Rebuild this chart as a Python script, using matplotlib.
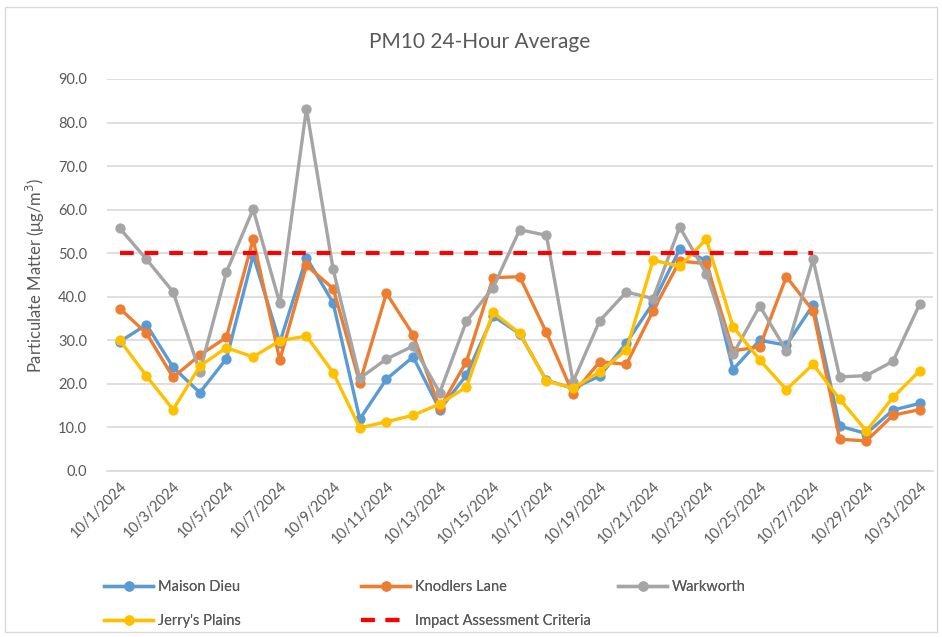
import numpy as np
import matplotlib
matplotlib.use("Agg")
import matplotlib.pyplot as plt
from matplotlib.patches import Rectangle

dates = ["10/%d/2024" % d for d in range(1, 32)]

maison_dieu = [29.7, 33.6, 23.8, 18.0, 25.8, 49.5, 29.5, 49.0, 38.6, 11.9,
               21.1, 26.2, 14.1, 22.0, 35.6, 31.5, 20.8, 19.0, 21.8, 29.4,
               38.6, 50.9, 48.4, 23.3, 30.0, 28.9, 38.1, 10.3, 8.6, 14.0, 15.5]
knodlers_lane = [37.3, 31.6, 21.5, 26.6, 30.7, 53.2, 25.5, 47.2, 41.9, 20.3,
                 40.8, 31.3, 14.4, 25.1, 44.4, 44.6, 31.8, 17.7, 25.1, 24.5,
                 36.8, 48.2, 47.6, 27.6, 28.5, 44.6, 36.8, 7.3, 6.9, 12.8, 14.1]
warkworth = [55.7, 48.6, 41.1, 22.8, 45.7, 60.1, 38.5, 83.2, 46.3, 21.3,
             25.7, 28.7, 18.0, 34.4, 42.1, 55.4, 54.1, 20.5, 34.5, 41.1,
             39.6, 56.0, 45.3, 26.8, 37.9, 27.6, 48.6, 21.6, 21.9, 25.2, 38.3]
jerrys_plains = [30.0, 21.8, 14.1, 24.1, 28.3, 26.2, 29.9, 31.0, 22.6, 9.9,
                 11.3, 12.8, 15.4, 19.3, 36.4, 31.6, 20.7, 19.0, 22.8, 27.8,
                 48.4, 47.0, 53.2, 33.1, 25.5, 18.7, 24.5, 16.5, 9.2, 16.9, 23.0]
criteria = [50.0] * 27  # 10/1 .. 10/27

TXT = "#595959"
GRID = "#D9D9D9"
plt.rcParams["font.family"] = ["Lato", "DejaVu Sans"]

fig = plt.figure(figsize=(9.42, 6.37), dpi=100)
ax = fig.add_axes([106.5 / 942, 1 - 471 / 637, (933 - 106.5) / 942, (471 - 79) / 637])

x = np.arange(len(dates))
series = [
    ("Maison Dieu", maison_dieu, "#5B9BD5"),
    ("Knodlers Lane", knodlers_lane, "#ED7D31"),
    ("Warkworth", warkworth, "#A5A5A5"),
    ("Jerry's Plains", jerrys_plains, "#FFC000"),
]
h = {}
for name, vals, col in series:
    h[name], = ax.plot(x, vals, color=col, lw=2.4, marker="o", ms=6.4,
                       label=name, solid_joinstyle="round")
h["crit"], = ax.plot(x[:len(criteria)], criteria, color="#FF0000", lw=3,
                     ls=(0, (3.3, 2.6)), label="Impact Assessment Criteria")

ax.set_xlim(-0.5, len(dates) - 0.5)
ax.set_ylim(0, 90)
ax.set_yticks(np.arange(0, 91, 10))
ax.set_yticklabels(["%.1f" % v for v in np.arange(0, 91, 10)])
ax.set_xticks(x[::2])
ax.set_xticklabels(dates[::2], rotation=45, ha="right", rotation_mode="anchor")
ax.grid(axis="y", color=GRID, lw=1.2)
ax.set_axisbelow(True)
for s in ["top", "right", "left"]:
    ax.spines[s].set_visible(False)
ax.spines["bottom"].set_color(GRID)
ax.spines["bottom"].set_linewidth(1.2)
ax.tick_params(axis="both", length=0, colors=TXT, labelsize=10.5)
ax.tick_params(axis="y", pad=14)
ax.tick_params(axis="x", pad=6)
ax.set_ylabel("Particulate Matter (μg/m$^3$)", color=TXT, fontsize=12, labelpad=8)

fig.text(480 / 942, 1 - 42 / 637, "PM10 24-Hour Average", ha="center", va="center",
         color=TXT, fontsize=15)

# legend: three columns placed like Excel's
cols = [(98, ["Maison Dieu", "Jerry's Plains"]),
        (355, ["Knodlers Lane", "crit"]),
        (612, ["Warkworth"])]
for x0, keys in cols:
    leg = fig.legend([h[k] for k in keys], [h[k].get_label() for k in keys],
                     loc="upper left", bbox_to_anchor=(x0 / 942, 1 - 574 / 637),
                     frameon=False, fontsize=10.5, labelcolor=TXT,
                     handlelength=3.4, handletextpad=0.3, labelspacing=1.4,
                     borderaxespad=0)
    fig.add_artist(leg)

fig.patches.append(Rectangle((5 / 942, 5 / 637), 932 / 942, 625 / 637,
                             transform=fig.transFigure, fill=False,
                             edgecolor=GRID, lw=1))

fig.savefig("out.png", dpi=100, facecolor="white")
